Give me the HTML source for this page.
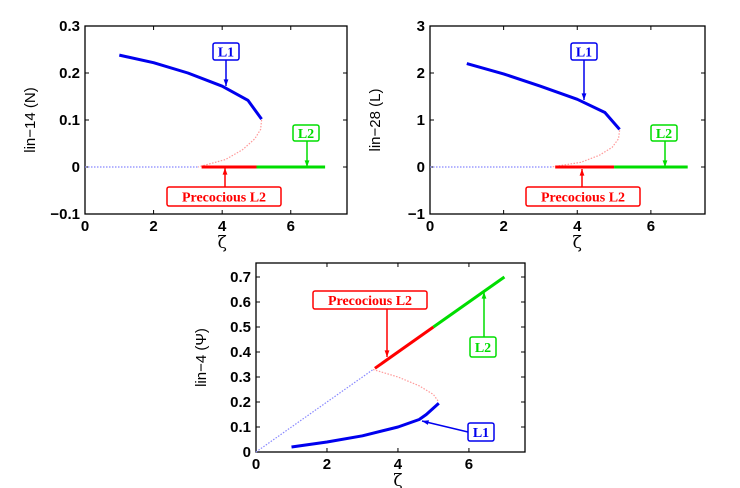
<!DOCTYPE html>
<html><head><meta charset="utf-8"><style>
body{margin:0;background:#fff;}
svg{display:block;font-family:"Liberation Sans",sans-serif;}
.box{font-family:"Liberation Serif",serif;font-weight:bold;font-size:14px;}
</style></head><body>
<svg id="chart" width="740" height="488" viewBox="0 0 740 488"></svg>
<script>
// ---- data ----
const p1L1x=[1,2,3,4,4.75,5.15];
const p1L1y=[0.238,0.222,0.2,0.172,0.142,0.102];
const p1UnstX=[5.15,5.12,4.95,4.6,4.1,3.3];
const p1UnstY=[0.1,0.08,0.06,0.037,0.016,0];
const p2L1x=[1,2,3,4,4.75,5.15];
const p2L1y=[2.2,1.98,1.72,1.44,1.16,0.8];
const p2UnstX=[5.15,5.12,4.95,4.6,4.1,3.3];
const p2UnstY=[0.78,0.6,0.42,0.25,0.1,0];
const p3L1x=[1,2,3,4,4.6,4.8,5.15];
const p3L1y=[0.02,0.04,0.065,0.1,0.13,0.15,0.195];
const p3UnstX=[3.3,4,4.6,5.0,5.15];
const p3UnstY=[0.33,0.3,0.265,0.23,0.2];
const p3PreX=[3.35,5];const p3PreY=[0.335,0.5];
const p3L2x=[5,7];const p3L2y=[0.5,0.7];
const xTicks=[0,2,4,6];
const y1Ticks=[-0.1,0,0.1,0.2,0.3];
const y2Ticks=[-1,0,1,2,3];
const y3Ticks=[0,0.1,0.2,0.3,0.4,0.5,0.6,0.7];

const svg=document.getElementById('chart');
const NS='http://www.w3.org/2000/svg';
function mk(tag,attrs,parent){const e=document.createElementNS(NS,tag);for(const k in attrs)e.setAttribute(k,attrs[k]);(parent||svg).appendChild(e);return e;}

function panel(name,L,R,T,B,xmax,ymin,ymax,yTicks,ylabel,fmt){
  const g=mk('g',{});
  
  
  const sx=v=>L+(R-L)*v/xmax, sy=v=>B-(B-T)*(v-ymin)/(ymax-ymin);
  const fr=mk('rect',{x:L,y:T,width:R-L,height:B-T,fill:'none',stroke:'#000','stroke-width':1.3},g);
  
  
  xTicks.forEach(t=>{
    mk('line',{x1:sx(t),x2:sx(t),y1:B,y2:B-4,stroke:'#000'},g);
    mk('line',{x1:sx(t),x2:sx(t),y1:T,y2:T+4,stroke:'#000'},g);
    const tx=mk('text',{x:sx(t),y:B+17,'text-anchor':'middle','font-size':15,'font-weight':'bold'},g);tx.textContent=t;
    
    
  });
  yTicks.forEach(t=>{
    mk('line',{x1:L,x2:L+4,y1:sy(t),y2:sy(t),stroke:'#000'},g);
    mk('line',{x1:R,x2:R-4,y1:sy(t),y2:sy(t),stroke:'#000'},g);
    const ty=mk('text',{x:L-5,y:sy(t)+5,'text-anchor':'end','font-size':15,'font-weight':'bold'},g);ty.textContent=fmt(t);
    
    
  });
  const xl=mk('text',{x:(sx(4)),y:B+34,'text-anchor':'middle','font-size':17,'font-family':'DejaVu Serif,serif'},g);xl.textContent='ζ';
  
  
  const cy=(T+B)/2;
  const yl=mk('text',{x:L-50,y:cy,'text-anchor':'middle','font-size':15,transform:`rotate(-90 ${L-50} ${cy})`},g);yl.textContent=ylabel;
  
  
  return {g,sx,sy};
}
function line(p,xs,ys,color,w,dash,name){
  const d=xs.map((x,i)=>(i?'L':'M')+p.sx(x).toFixed(1)+','+p.sy(ys[i]).toFixed(1)).join('');
  const e=mk('path',{d,fill:'none',stroke:color,'stroke-width':w,'stroke-dasharray':dash||'none','stroke-linejoin':'round'},p.g);
  
  
}
function label(g,x1,y1,x2,y2,txt,color,name){
  const w=txt.length>3?114:26;
  mk('rect',{x:x1,y:y1,width:w,height:y2-y1,fill:'#fff',stroke:color,'stroke-width':1.5,rx:2},g);
  const t=mk('text',{x:x1+w/2,y:(y1+y2)/2+5,'text-anchor':'middle',fill:color,class:'box'},g);t.textContent=txt;
  
  
}
function arrow(g,x1,y1,x2,y2,color){
  mk('line',{x1,y1,x2,y2,stroke:color,'stroke-width':1.5},g);
  const a=Math.atan2(y2-y1,x2-x1),s=7;
  const p=[[x2,y2],[x2-s*Math.cos(a-0.35),y2-s*Math.sin(a-0.35)],[x2-s*Math.cos(a+0.35),y2-s*Math.sin(a+0.35)]];
  mk('polygon',{points:p.map(q=>q.join(',')).join(' '),fill:color},g);
}
const B='#0000ee',R='#ff0000',G='#00dd00';
const f1=t=>t===0?'0':(t<0?'\u22120.1':t.toFixed(1));
// panel 1
let p=panel('panel-lin14',85,347,26,214,7.64,-0.1,0.3,y1Ticks,'lin\u221214 (N)',f1);
line(p,[0,3.3],[0,0],'#8888ff',1.2,'1.5 1.5','unstable-l2-dotted');
line(p,p1UnstX,p1UnstY,'#ff9999',1.2,'1.5 1.5','unstable-branch');
line(p,[3.4,5],[0,0],R,3,null,'precocious-l2-line');
line(p,[5,7],[0,0],G,3,null,'l2-line');
line(p,p1L1x,p1L1y,B,3,null,'l1-line');
arrow(p.g,226,60,226,86,B);label(p.g,213,43,239,60,'L1',B,'l1-label');
arrow(p.g,307,141,307,167,G);label(p.g,293,125,319,141,'L2',G,'l2-label');
arrow(p.g,225,187,225,168,R);label(p.g,167,187,281,206,'Precocious L2',R,'precocious-l2-label');
// panel 2
const f2=t=>t<0?'\u22121':String(t);
p=panel('panel-lin28',430,705,26,214,7.47,-1,3,y2Ticks,'lin\u221228 (L)',f2);
line(p,[0,3.3],[0,0],'#8888ff',1.2,'1.5 1.5','unstable-l2-dotted');
line(p,p2UnstX,p2UnstY,'#ff9999',1.2,'1.5 1.5','unstable-branch');
line(p,[3.4,5],[0,0],R,3,null,'precocious-l2-line');
line(p,[5,7],[0,0],G,3,null,'l2-line');
line(p,p2L1x,p2L1y,B,3,null,'l1-line');
arrow(p.g,584,60,584,100,B);label(p.g,571,43,597,60,'L1',B,'l1-label');
arrow(p.g,665,141,665,167,G);label(p.g,651,125,677,141,'L2',G,'l2-label');
arrow(p.g,582,187,582,169,R);label(p.g,526,187,640,206,'Precocious L2',R,'precocious-l2-label');
// panel 3
const f3=t=>t===0?'0':t.toFixed(1);
p=panel('panel-lin4',256,525,263,452,7.58,0,0.756,y3Ticks,'lin\u22124 (\u03A8)',f3);
line(p,[0,3.3],[0,0.33],'#8888ff',1.2,'1.5 1.5','unstable-l2-dotted');
line(p,p3UnstX,p3UnstY,'#ff9999',1.2,'1.5 1.5','unstable-branch');
line(p,p3PreX,p3PreY,R,3,null,'precocious-l2-line');
line(p,p3L2x,p3L2y,G,3,null,'l2-line');
line(p,p3L1x,p3L1y,B,3,null,'l1-line');
arrow(p.g,387,308,387,357,R);label(p.g,313,291,427,309,'Precocious L2',R,'precocious-l2-label');
arrow(p.g,484,337,484,292,G);label(p.g,470,337,497,357,'L2',G,'l2-label');
arrow(p.g,468,432,422,421,B);label(p.g,468,423,495,441,'L1',B,'l1-label');
</script>
</body></html>
